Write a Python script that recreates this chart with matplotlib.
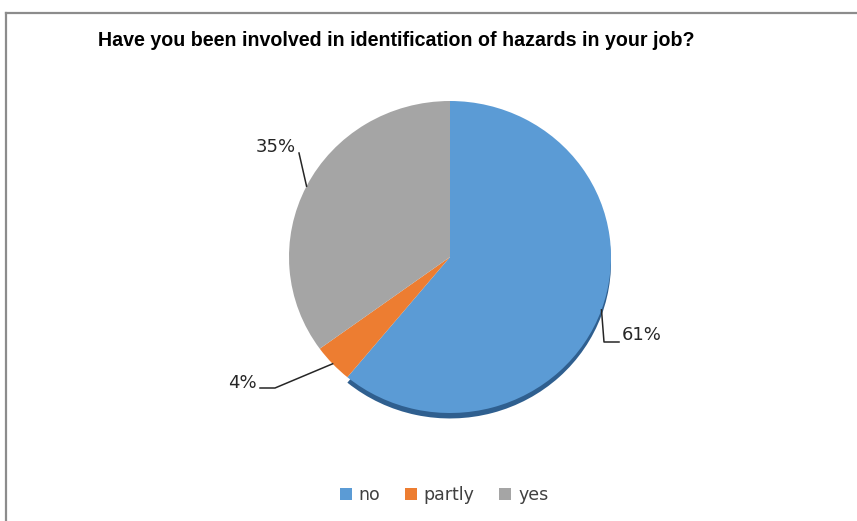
import numpy as np
import matplotlib
matplotlib.use("Agg")
import matplotlib.pyplot as plt
from matplotlib.patches import Patch
from matplotlib.lines import Line2D

title = "Have you been involved in identification of hazards in your job?"
labels = ["no", "partly", "yes"]
shares = [61, 4, 35]
colors = ["#5B9BD5", "#ED7D31", "#A5A5A5"]
side_colors = ["#2F5F8F", "none", "none"]

W, H = 857, 521
fig = plt.figure(figsize=(W / 100, H / 100), dpi=100)
fig.patch.set_facecolor("white")

# chart frame (top and left edges only are inside the picture)
fig.add_artist(Line2D([6 / W, 6 / W], [0, 1 - 13 / H], color="#8c8c8c", lw=1.6))
fig.add_artist(Line2D([6 / W, 1], [1 - 13 / H, 1 - 13 / H], color="#8c8c8c", lw=1.6))

fig.text(98 / W, 1 - 40 / H, title, fontsize=14.1, fontweight="bold",
         family="Liberation Sans", va="center", ha="left", color="black")

# pie axes: centre (450, 257) px, radii 161 x 156 px
cx, cy, rx, ry = 450, 257, 161, 156
ax = fig.add_axes([(cx - rx) / W, 1 - (cy + ry) / H, 2 * rx / W, 2 * ry / H])

# darker copy underneath gives the 3D edge at the bottom
ax.pie(shares, colors=side_colors, startangle=90, counterclock=False,
       center=(0, -0.035), radius=1.0)
wedges, _ = ax.pie(shares, colors=colors, startangle=90, counterclock=False,
                   radius=1.0)
ax.set_aspect("auto")
ax.set_xlim(-1, 1)
ax.set_ylim(-1, 1)
ax.axis("off")


def px(x, y):
    return (x - cx) / rx, (cy - y) / ry


# leader elbows and text anchors for each slice, in pixels
leaders = {
    "no": ([(604, 342), (619, 342)], (622, 335), "left"),
    "partly": ([(275, 388), (260, 388)], (257, 383), "right"),
    "yes": ([(299, 153)], (276, 147), "center"),
}

cum = 0
for lab, val in zip(labels, shares):
    mid = np.deg2rad(90 - (cum + val / 2) * 3.6)
    cum += val
    pts = [(np.cos(mid), np.sin(mid))] + [px(*p) for p in leaders[lab][0]]
    xs, ys = zip(*pts)
    ax.plot(xs, ys, color="#262626", lw=1.1, clip_on=False)
    tx, ty = px(*leaders[lab][1])
    ax.text(tx, ty, f"{val}%", fontsize=13, ha=leaders[lab][2], va="center",
            color="#262626", clip_on=False)

handles = [Patch(facecolor=c, edgecolor="none") for c in colors]
fig.legend(handles, labels, loc="center", bbox_to_anchor=(444 / W, 1 - 495 / H),
           ncol=3, frameon=False, fontsize=12.5, handlelength=0.7, handleheight=0.7,
           handletextpad=0.4, columnspacing=1.4, labelcolor="#404040")

fig.savefig("out.png", dpi=100, facecolor="white")
